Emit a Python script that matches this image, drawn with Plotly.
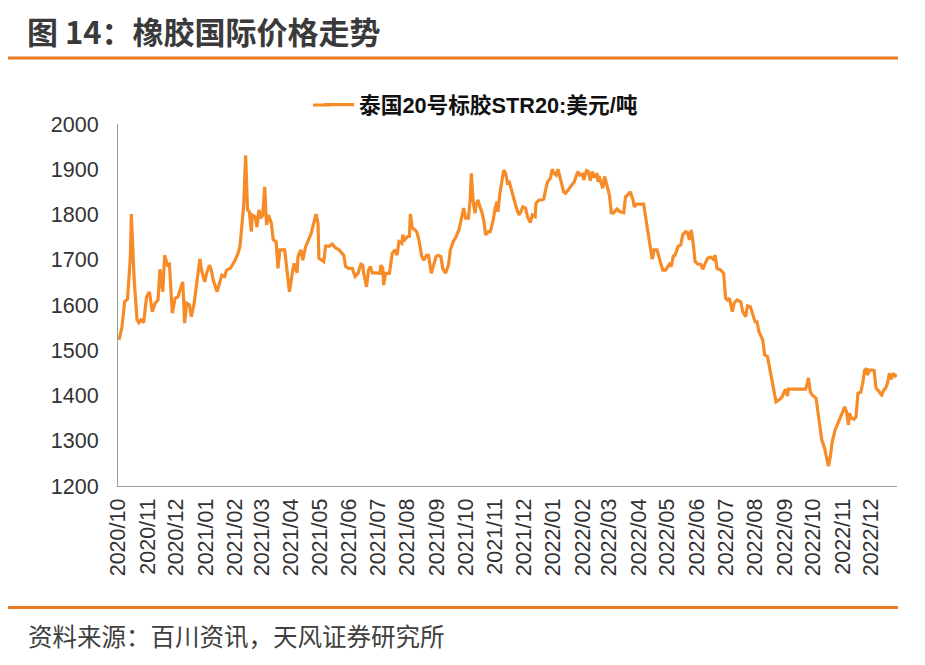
import plotly.graph_objects as go

# ---------------- data ----------------
dates_2020 = [
    "2020-10-02", "2020-10-05", "2020-10-08", "2020-10-11", "2020-10-14", "2020-10-15",
    "2020-10-18", "2020-10-21", "2020-10-23", "2020-10-25", "2020-10-28", "2020-10-31",
    "2020-11-03", "2020-11-06", "2020-11-09", "2020-11-12", "2020-11-14", "2020-11-17",
    "2020-11-19", "2020-11-22", "2020-11-24", "2020-11-27", "2020-11-30",
    "2020-12-03", "2020-12-04", "2020-12-06", "2020-12-08", "2020-12-10", "2020-12-12",
    "2020-12-15", "2020-12-17", "2020-12-20", "2020-12-23", "2020-12-24", "2020-12-26",
    "2020-12-28", "2020-12-31",
]
price_2020 = [
    1523, 1549, 1607, 1613, 1707, 1801, 1655, 1567, 1561, 1567, 1561, 1618,
    1629, 1585, 1604, 1611, 1679, 1629, 1710, 1688, 1690, 1582, 1615,
    1618, 1626, 1640, 1651, 1560, 1604, 1600, 1574, 1604, 1648, 1663, 1702,
    1674, 1651,
]

dates_2021 = [
    "2021-01-02", "2021-01-05", "2021-01-07", "2021-01-09", "2021-01-13", "2021-01-16",
    "2021-01-18", "2021-01-21", "2021-01-23", "2021-01-27", "2021-01-29",
    "2021-02-01", "2021-02-04", "2021-02-06", "2021-02-08", "2021-02-10", "2021-02-12",
    "2021-02-14", "2021-02-16", "2021-02-18", "2021-02-19", "2021-02-22", "2021-02-24",
    "2021-02-26", "2021-02-28",
    "2021-03-02", "2021-03-04", "2021-03-06", "2021-03-08", "2021-03-11", "2021-03-13",
    "2021-03-16", "2021-03-18", "2021-03-20", "2021-03-25", "2021-03-27", "2021-03-30",
    "2021-04-02", "2021-04-04", "2021-04-07", "2021-04-08", "2021-04-11", "2021-04-13",
    "2021-04-16", "2021-04-19", "2021-04-22", "2021-04-24", "2021-04-27", "2021-04-29",
    "2021-04-30",
    "2021-05-03", "2021-05-05", "2021-05-07", "2021-05-11", "2021-05-14", "2021-05-17",
    "2021-05-21", "2021-05-24", "2021-05-26", "2021-05-28", "2021-05-31",
    "2021-06-04", "2021-06-07", "2021-06-10", "2021-06-13", "2021-06-15", "2021-06-16",
    "2021-06-19", "2021-06-21", "2021-06-23", "2021-06-25", "2021-06-28",
    "2021-07-03", "2021-07-04", "2021-07-06", "2021-07-07", "2021-07-09", "2021-07-13",
    "2021-07-16", "2021-07-19", "2021-07-21", "2021-07-23", "2021-07-26", "2021-07-27",
    "2021-07-29",
    "2021-08-01", "2021-08-03", "2021-08-04", "2021-08-06", "2021-08-09", "2021-08-11",
    "2021-08-13", "2021-08-15", "2021-08-16", "2021-08-18", "2021-08-21", "2021-08-23",
    "2021-08-26", "2021-08-29", "2021-08-31",
    "2021-09-02", "2021-09-05", "2021-09-07", "2021-09-10", "2021-09-13", "2021-09-15",
    "2021-09-18", "2021-09-21", "2021-09-24", "2021-09-27", "2021-09-29",
    "2021-10-01", "2021-10-04", "2021-10-06", "2021-10-07", "2021-10-09", "2021-10-11",
    "2021-10-12", "2021-10-14", "2021-10-16", "2021-10-18", "2021-10-20", "2021-10-22",
    "2021-10-25", "2021-10-27", "2021-10-30",
    "2021-11-01", "2021-11-03", "2021-11-04", "2021-11-06", "2021-11-08", "2021-11-10",
    "2021-11-12", "2021-11-14", "2021-11-16", "2021-11-19", "2021-11-21", "2021-11-23",
    "2021-11-26", "2021-11-28", "2021-11-30",
    "2021-12-03", "2021-12-05", "2021-12-08", "2021-12-10", "2021-12-13", "2021-12-14",
    "2021-12-17", "2021-12-20", "2021-12-22", "2021-12-24", "2021-12-26", "2021-12-29",
    "2021-12-31",
]
price_2021 = [
    1670, 1688, 1677, 1655, 1629, 1648, 1666, 1663, 1677, 1681, 1688,
    1699, 1714, 1729, 1773, 1821, 1931, 1810, 1806, 1762, 1799, 1795, 1772,
    1810, 1792,
    1799, 1861, 1777, 1799, 1781, 1744, 1740, 1681, 1722, 1722, 1685, 1629,
    1670, 1692, 1671, 1707, 1722, 1699, 1729, 1744, 1759, 1777, 1801, 1781,
    1703,
    1699, 1696, 1730, 1730, 1735, 1727, 1722, 1716, 1710, 1685, 1681,
    1681, 1663, 1670, 1690, 1688, 1670, 1640, 1677, 1685, 1671, 1671,
    1670, 1688, 1681, 1644, 1670, 1670, 1714, 1722, 1710, 1740, 1736, 1755,
    1744,
    1751, 1752, 1801, 1770, 1766, 1760, 1744, 1710, 1707, 1699, 1710, 1710,
    1670, 1692, 1707,
    1710, 1707, 1681, 1670, 1688, 1722, 1740, 1751, 1766, 1792, 1814,
    1792, 1792, 1839, 1891, 1828, 1803, 1821, 1832, 1817, 1806, 1788, 1755,
    1762, 1762, 1788,
    1814, 1828, 1806, 1847, 1876, 1898, 1891, 1869, 1871, 1847, 1828, 1817,
    1799, 1806, 1817,
    1814, 1795, 1782, 1799, 1795, 1825, 1832, 1832, 1834, 1854, 1872, 1880,
    1900,
]

dates_2022 = [
    "2022-01-02", "2022-01-04", "2022-01-06", "2022-01-08", "2022-01-10", "2022-01-12",
    "2022-01-14", "2022-01-16", "2022-01-19", "2022-01-23", "2022-01-25", "2022-01-27",
    "2022-01-29",
    "2022-02-01", "2022-02-02", "2022-02-05", "2022-02-07", "2022-02-09", "2022-02-11",
    "2022-02-13", "2022-02-16", "2022-02-17", "2022-02-18", "2022-02-20", "2022-02-22",
    "2022-02-24", "2022-02-27",
    "2022-03-01", "2022-03-03", "2022-03-05", "2022-03-09", "2022-03-12", "2022-03-16",
    "2022-03-18", "2022-03-21", "2022-03-23", "2022-03-26", "2022-03-27", "2022-03-30",
    "2022-04-06", "2022-04-09", "2022-04-11", "2022-04-13", "2022-04-15", "2022-04-17",
    "2022-04-20", "2022-04-23", "2022-04-26", "2022-04-29",
    "2022-05-01", "2022-05-03", "2022-05-05", "2022-05-07", "2022-05-09", "2022-05-12",
    "2022-05-15", "2022-05-17", "2022-05-20", "2022-05-22", "2022-05-24", "2022-05-26",
    "2022-05-28", "2022-05-30",
    "2022-06-02", "2022-06-05", "2022-06-07", "2022-06-10", "2022-06-12", "2022-06-15",
    "2022-06-18", "2022-06-20", "2022-06-22", "2022-06-26", "2022-06-29",
    "2022-07-01", "2022-07-03", "2022-07-05", "2022-07-08", "2022-07-10", "2022-07-13",
    "2022-07-17", "2022-07-19", "2022-07-22", "2022-07-24", "2022-07-27", "2022-07-30",
    "2022-08-01", "2022-08-03", "2022-08-05", "2022-08-09", "2022-08-11", "2022-08-14",
    "2022-08-18", "2022-08-20", "2022-08-23", "2022-08-26", "2022-08-29", "2022-08-31",
    "2022-09-02", "2022-09-04", "2022-09-05", "2022-09-09", "2022-09-17", "2022-09-23",
    "2022-09-25", "2022-09-26", "2022-09-28", "2022-09-30",
    "2022-10-04", "2022-10-06", "2022-10-08", "2022-10-10", "2022-10-13", "2022-10-15",
    "2022-10-17", "2022-10-19", "2022-10-21", "2022-10-24", "2022-10-27", "2022-10-29",
    "2022-11-01", "2022-11-03", "2022-11-05", "2022-11-07", "2022-11-08", "2022-11-10",
    "2022-11-13", "2022-11-15", "2022-11-17", "2022-11-20", "2022-11-22", "2022-11-24",
    "2022-11-26", "2022-11-27", "2022-11-29",
    "2022-12-02", "2022-12-04", "2022-12-06", "2022-12-08", "2022-12-11", "2022-12-12",
    "2022-12-14", "2022-12-16", "2022-12-18", "2022-12-20", "2022-12-22", "2022-12-24",
    "2022-12-26", "2022-12-28",
]
price_2022 = [
    1891, 1887, 1900, 1884, 1865, 1850, 1847, 1853, 1861, 1872, 1884, 1895,
    1887,
    1889, 1876, 1897, 1895, 1875, 1895, 1882, 1891, 1872, 1885, 1869, 1858,
    1884, 1858,
    1843, 1804, 1803, 1812, 1806, 1804, 1839, 1845, 1850, 1831, 1817, 1823,
    1823, 1781, 1751, 1722, 1701, 1722, 1722, 1699, 1677, 1677,
    1685, 1690, 1685, 1708, 1710, 1729, 1733, 1755, 1762, 1760, 1744, 1766,
    1736, 1696,
    1690, 1690, 1679, 1696, 1703, 1706, 1701, 1710, 1681, 1677, 1670,
    1615, 1611, 1615, 1585, 1604, 1611, 1607, 1585, 1574, 1598, 1596, 1574,
    1563, 1563, 1541, 1523, 1490, 1486, 1442, 1412, 1386, 1390, 1396, 1405,
    1414, 1399, 1414, 1414, 1414, 1414, 1428, 1439, 1408, 1401,
    1394, 1361, 1324, 1302, 1283, 1265, 1244, 1265, 1298, 1324, 1338, 1350,
    1364, 1375, 1364, 1335, 1361, 1350, 1348, 1353, 1405, 1407, 1427, 1456,
    1460, 1445, 1456,
    1456, 1455, 1416, 1412, 1403, 1401, 1412, 1416, 1427, 1449, 1436, 1449,
    1443, 1446,
]

series_name = "泰国20号标胶STR20:美元/吨"
title_text = "图 14：橡胶国际价格走势"
source_text = "资料来源：百川资讯，天风证券研究所"
y_ticks = [1200, 1300, 1400, 1500, 1600, 1700, 1800, 1900, 2000]

dates = dates_2020 + dates_2021 + dates_2022
prices = price_2020 + price_2021 + price_2022

# ---------------- styling ----------------
OFF = 8                     # default page margin around the plot div
W, H = 909, 649
L, R, T, B = 110, 20, 116, 171
PW, PH = W - L - R, H - T - B
ORANGE = "#F68B28"
RULE = "#EC7A22"
FONT = "Liberation Sans, Arial, Noto Sans CJK SC, sans-serif"
CJK = "Noto Sans CJK SC, Liberation Sans, sans-serif"
LEGEND_Y = 105


def px_x(p):
    return (p - OFF - L) / PW


def px_y(p):
    return (H - B - (p - OFF)) / PH


fig = go.Figure(
    go.Scatter(
        x=dates,
        y=prices,
        mode="lines",
        name=series_name,
        line=dict(color=ORANGE, width=3.2),
        showlegend=True,
    )
)

fig.update_layout(
    width=W,
    height=H,
    margin=dict(l=L, r=R, t=T, b=B, pad=0),
    paper_bgcolor="white",
    plot_bgcolor="white",
    font=dict(family=FONT, color="#333333"),
    showlegend=True,
    legend=dict(
        orientation="h",
        x=px_x(319),
        xanchor="left",
        y=px_y(LEGEND_Y),
        yanchor="middle",
        font=dict(family=FONT, size=21.7, color="#111111", weight="bold"),
        bgcolor="rgba(0,0,0,0)",
    ),
    xaxis=dict(
        type="date",
        range=["2020-10-01", "2022-12-28"],
        tick0="2020-10-01",
        dtick="M1",
        tickformat="%Y/%m",
        tickangle=-90,
        showline=True,
        linecolor="#9a9a9a",
        linewidth=1,
        showgrid=False,
        zeroline=False,
        ticks="",
        tickfont=dict(family=FONT, size=21.5, color="#333333"),
        ticklabelstandoff=3,
        fixedrange=True,
    ),
    yaxis=dict(
        range=[1200, 2000],
        tickvals=y_ticks,
        showline=True,
        linecolor="#9a9a9a",
        linewidth=1,
        showgrid=False,
        zeroline=False,
        ticks="",
        tickfont=dict(family=FONT, size=21.5, color="#333333"),
        ticklabelstandoff=14,
        fixedrange=True,
    ),
    shapes=[
        dict(type="line", xref="paper", yref="paper",
             x0=px_x(8), x1=px_x(898), y0=px_y(58), y1=px_y(58),
             line=dict(color=RULE, width=3)),
        dict(type="line", xref="paper", yref="paper",
             x0=px_x(7), x1=px_x(898), y0=px_y(607.5), y1=px_y(607.5),
             line=dict(color=RULE, width=3)),
        # longer legend key, as in the reference
        dict(type="line", xref="paper", yref="paper",
             x0=px_x(313), x1=px_x(330), y0=px_y(LEGEND_Y), y1=px_y(LEGEND_Y),
             line=dict(color=ORANGE, width=3)),
    ],
    annotations=[
        dict(text=title_text, xref="paper", yref="paper",
             x=px_x(25), y=px_y(30), xanchor="left", yanchor="middle",
             showarrow=False,
             font=dict(family=CJK, size=31, color="#3a3a3a", weight="bold")),
        dict(text=source_text, xref="paper", yref="paper",
             x=px_x(26), y=px_y(635), xanchor="left", yanchor="middle",
             showarrow=False,
             font=dict(family=CJK, size=24.5, color="#404040")),
    ],
)

fig.write_html("out.html")
